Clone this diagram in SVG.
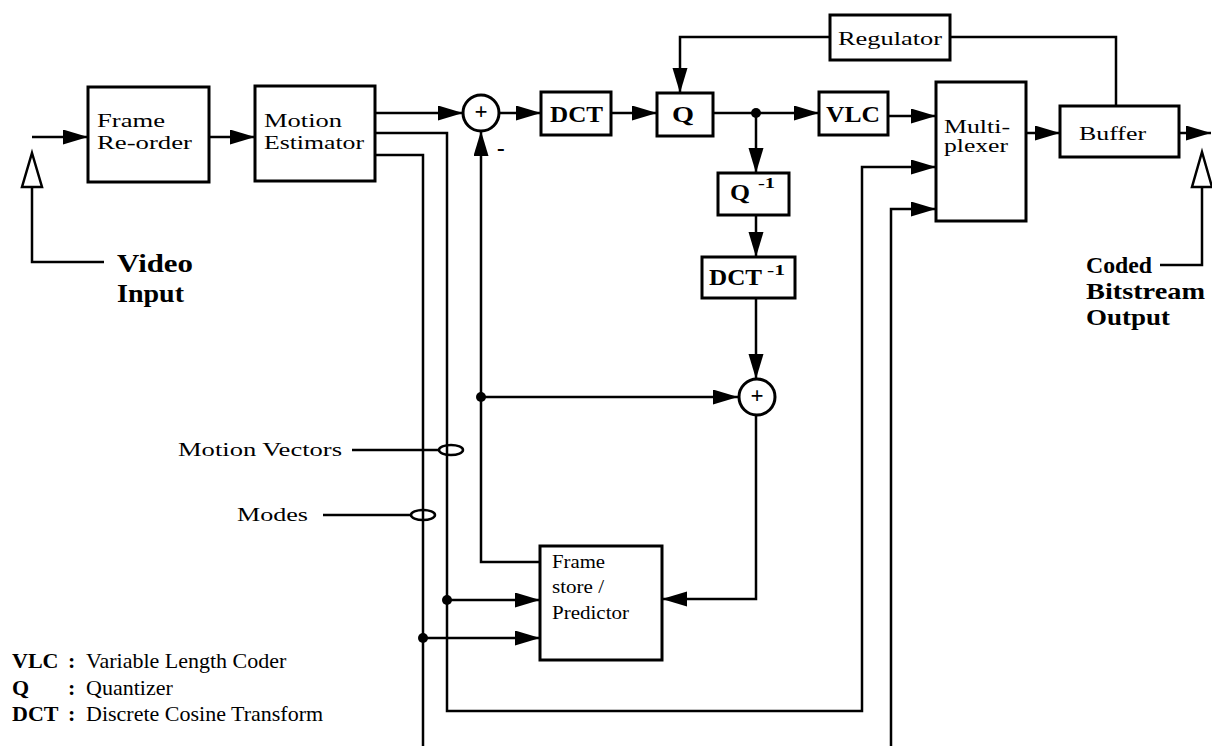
<svg xmlns="http://www.w3.org/2000/svg" width="1212" height="746" viewBox="0 0 1212 746">
<defs>
<marker id="ah" markerUnits="userSpaceOnUse" markerWidth="26" markerHeight="16" refX="25" refY="7.5" orient="auto">
<path d="M0,0 L25,7.5 L0,15 Z" fill="#000"/>
</marker>
</defs>
<style>
.box{fill:#fff;stroke:#000;stroke-width:3}
.ln{fill:none;stroke:#000;stroke-width:2.5}
.ar{fill:none;stroke:#000;stroke-width:2.5;marker-end:url(#ah)}
.t{font-family:"Liberation Serif",serif;font-size:19px;fill:#000}
.tb{font-family:"Liberation Serif",serif;font-weight:bold;font-size:23px;fill:#000}
.sup{font-family:"Liberation Serif",serif;font-weight:bold;font-size:15px;fill:#000}
.big{font-family:"Liberation Serif",serif;font-weight:bold;font-size:26px;fill:#000}
.big2{font-family:"Liberation Serif",serif;font-weight:bold;font-size:23px;fill:#000}
.lg{font-family:"Liberation Serif",serif;font-size:22px;fill:#000}
.lgb{font-family:"Liberation Serif",serif;font-weight:bold;font-size:22px;fill:#000}
.hol{fill:#fff;stroke:#000;stroke-width:2.5}
.dot{fill:#000}
</style>
<rect width="1212" height="746" fill="#fff"/>
<g id="connectors">
<path class="ar" d="M32,137 H88"/>
<path class="ar" d="M209,137 H255"/>
<path class="ar" d="M375,113 H463"/>
<path class="ar" d="M375,133 H447 V711 H862 V167 H936"/>
<path class="ln" d="M375,155 H423 V746"/>
<path class="ar" d="M891,746 V209 H936"/>
<path class="ar" d="M499,113 H541"/>
<path class="ar" d="M611,113 H657"/>
<path class="ar" d="M713,113 H819"/>
<path class="ar" d="M756,113 V173"/>
<path class="ar" d="M756,215 V257"/>
<path class="ar" d="M756,298 V379"/>
<path class="ar" d="M756,415 V599 H662"/>
<path class="ar" d="M540,562 H481 V131"/>
<path class="ar" d="M481,397 H738"/>
<path class="ar" d="M447,600 H540"/>
<path class="ar" d="M423,638 H540"/>
<path class="ar" d="M888,116 H936"/>
<path class="ar" d="M1026,133 H1060"/>
<path class="ar" d="M1179,133 H1211"/>
<path class="ln" d="M1116,106 V37 H950"/>
<path class="ar" d="M830,37 H680 V93"/>
<path class="ln" d="M32,186 V262 H104"/>
<polygon class="hol" points="32,153 42,187 22,187"/>
<path class="ln" d="M1202,186 V265 H1160"/>
<polygon class="hol" points="1202,152 1212,187 1192,187"/>
<path class="ln" d="M352,450 H439"/>
<ellipse class="ln" cx="451" cy="450" rx="12" ry="5"/>
<path class="ln" d="M323,515 H411"/>
<ellipse class="ln" cx="423" cy="515" rx="12" ry="5"/>
<circle class="dot" cx="756" cy="113" r="5"/>
<circle class="dot" cx="481" cy="397" r="5"/>
<circle class="dot" cx="447" cy="600" r="5"/>
<circle class="dot" cx="423" cy="638" r="5"/>
</g>
<g id="frame-reorder">
<rect class="box" x="88" y="87" width="121" height="95"/>
<text class="t" x="97" y="127" textLength="68" lengthAdjust="spacingAndGlyphs">Frame</text>
<text class="t" x="97" y="149" textLength="95" lengthAdjust="spacingAndGlyphs">Re-order</text>
</g>
<g id="motion-estimator">
<rect class="box" x="255" y="86" width="120" height="95"/>
<text class="t" x="264" y="127" textLength="78" lengthAdjust="spacingAndGlyphs">Motion</text>
<text class="t" x="264" y="149" textLength="100" lengthAdjust="spacingAndGlyphs">Estimator</text>
</g>
<g id="sum1">
<circle class="box" cx="481" cy="113" r="18"/>
<text class="tb" x="481" y="119" text-anchor="middle" font-size="17">+</text>
<text class="tb" x="497" y="156" font-size="20">-</text>
</g>
<g id="dct">
<rect class="box" x="541" y="92" width="70" height="43"/>
<text class="tb" x="550" y="122" textLength="53" lengthAdjust="spacingAndGlyphs">DCT</text>
</g>
<g id="q">
<rect class="box" x="657" y="93" width="56" height="43"/>
<text class="tb" x="672" y="122" font-size="25" textLength="22" lengthAdjust="spacingAndGlyphs">Q</text>
</g>
<g id="vlc">
<rect class="box" x="819" y="92" width="69" height="43"/>
<text class="tb" x="826" y="122" textLength="54" lengthAdjust="spacingAndGlyphs">VLC</text>
</g>
<g id="regulator">
<rect class="box" x="830" y="15" width="120" height="45"/>
<text class="t" x="838" y="45" font-size="20" textLength="104" lengthAdjust="spacingAndGlyphs">Regulator</text>
</g>
<g id="multiplexer">
<rect class="box" x="936" y="82" width="90" height="139"/>
<text class="t" x="944" y="133" font-size="20" textLength="66" lengthAdjust="spacingAndGlyphs">Multi-</text>
<text class="t" x="944" y="152" font-size="20" textLength="64" lengthAdjust="spacingAndGlyphs">plexer</text>
</g>
<g id="buffer">
<rect class="box" x="1060" y="106" width="119" height="51"/>
<text class="t" x="1079" y="140" font-size="20" textLength="67" lengthAdjust="spacingAndGlyphs">Buffer</text>
</g>
<g id="q-inv">
<rect class="box" x="718" y="173" width="71" height="42"/>
<text class="tb" x="730" y="200" textLength="20" lengthAdjust="spacingAndGlyphs">Q</text>
<text class="sup" x="758" y="188" textLength="17" lengthAdjust="spacingAndGlyphs">-1</text>
</g>
<g id="dct-inv">
<rect class="box" x="702" y="257" width="93" height="41"/>
<text class="tb" x="709" y="285" textLength="53" lengthAdjust="spacingAndGlyphs">DCT</text>
<text class="sup" x="767" y="275" textLength="18" lengthAdjust="spacingAndGlyphs">-1</text>
</g>
<g id="sum2">
<circle class="box" cx="757" cy="397" r="18"/>
<text class="tb" x="757" y="403" text-anchor="middle" font-size="17">+</text>
</g>
<g id="frame-store">
<rect class="box" x="540" y="546" width="122" height="114"/>
<text class="t" x="552" y="568" font-size="16" textLength="53" lengthAdjust="spacingAndGlyphs">Frame</text>
<text class="t" x="552" y="593" font-size="16" textLength="52" lengthAdjust="spacingAndGlyphs">store /</text>
<text class="t" x="552" y="619" font-size="16" textLength="77" lengthAdjust="spacingAndGlyphs">Predictor</text>
</g>
<g id="labels">
<text class="t" x="178" y="456" font-size="20" textLength="164" lengthAdjust="spacingAndGlyphs">Motion Vectors</text>
<text class="t" x="237" y="521" font-size="20" textLength="71" lengthAdjust="spacingAndGlyphs">Modes</text>
<text class="big" x="117" y="272" textLength="76" lengthAdjust="spacingAndGlyphs">Video</text>
<text class="big" x="117" y="302" textLength="67" lengthAdjust="spacingAndGlyphs">Input</text>
<text class="big2" x="1086" y="273" textLength="66" lengthAdjust="spacingAndGlyphs">Coded</text>
<text class="big2" x="1086" y="299" textLength="119" lengthAdjust="spacingAndGlyphs">Bitstream</text>
<text class="big2" x="1086" y="325" textLength="84" lengthAdjust="spacingAndGlyphs">Output</text>
</g>
<g id="legend">
<text class="lgb" x="12" y="668">VLC</text><text class="lgb" x="68" y="668">:</text><text class="lg" x="86" y="668">Variable Length Coder</text>
<text class="lgb" x="12" y="695">Q</text><text class="lgb" x="68" y="695">:</text><text class="lg" x="86" y="695">Quantizer</text>
<text class="lgb" x="12" y="721">DCT</text><text class="lgb" x="68" y="721">:</text><text class="lg" x="86" y="721">Discrete Cosine Transform</text>
</g>
</svg>
